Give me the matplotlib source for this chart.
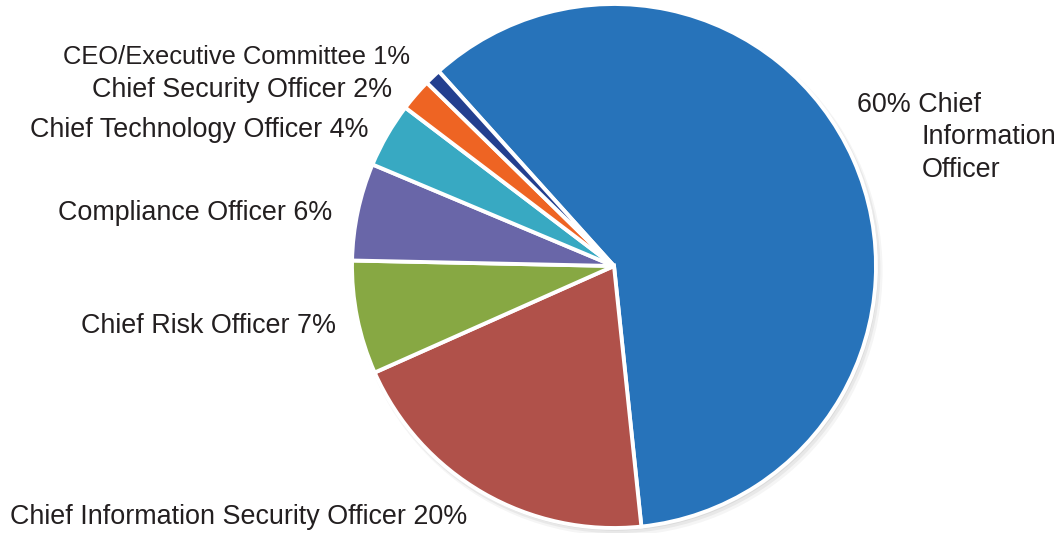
import matplotlib.pyplot as plt

# Données
roles = ["Chief Information Officer", "Chief Information Security Officer",
         "Chief Risk Officer", "Compliance Officer", "Chief Technology Officer",
         "Chief Security Officer", "CEO/Executive Committee"]
parts = [60, 20, 7, 6, 4, 2, 1]
couleurs = ["#2773BA", "#B0514A", "#87A843", "#6966A8", "#38A9C2", "#EE6423", "#233F8F"]

plt.rcParams['font.family'] = ['Liberation Sans', 'DejaVu Sans']
TXT = "#231F20"

fig = plt.figure(figsize=(10.62, 5.33), dpi=100)
ax = fig.add_axes([0, 0, 1, 1])

centre = (614, 267)
rayon = 262

# ombre douce
for k, a in [(6, 0.04), (4, 0.05), (2, 0.06)]:
    ax.pie([1], radius=rayon + k * 0.5, center=(centre[0] + k * 0.6, centre[1] - k * 0.8),
           colors=["black"], wedgeprops=dict(alpha=a, linewidth=0), frame=True)

ax.pie(parts, radius=rayon, center=centre, colors=couleurs, startangle=132,
       counterclock=False, frame=True,
       wedgeprops=dict(edgecolor="white", linewidth=2.8))
ax.set_xlim(0, 1062)
ax.set_ylim(0, 533)
ax.set_aspect('equal')
ax.axis('off')

fs = 19.4
gauche = [
    ("CEO/Executive Committee 1%", 410, 476, 18.4),
    ("Chief Security Officer 2%", 392, 443, fs),
    ("Chief Technology Officer 4%", 368, 403, fs),
    ("Compliance Officer 6%", 332, 320, fs),
    ("Chief Risk Officer 7%", 336, 207, fs),
]
for txt, x, y, taille in gauche:
    ax.text(x, y, txt, ha="right", va="center", fontsize=taille, color=TXT)

ax.text(10, 16, "Chief Information Security Officer 20%", ha="left", va="center",
        fontsize=fs, color=TXT)

ax.text(857, 428, "60% Chief", ha="left", va="center", fontsize=fs, color=TXT)
ax.text(922, 396, "Information", ha="left", va="center", fontsize=fs, color=TXT)
ax.text(922, 363, "Officer", ha="left", va="center", fontsize=fs, color=TXT)

plt.savefig("out.png", dpi=100)
